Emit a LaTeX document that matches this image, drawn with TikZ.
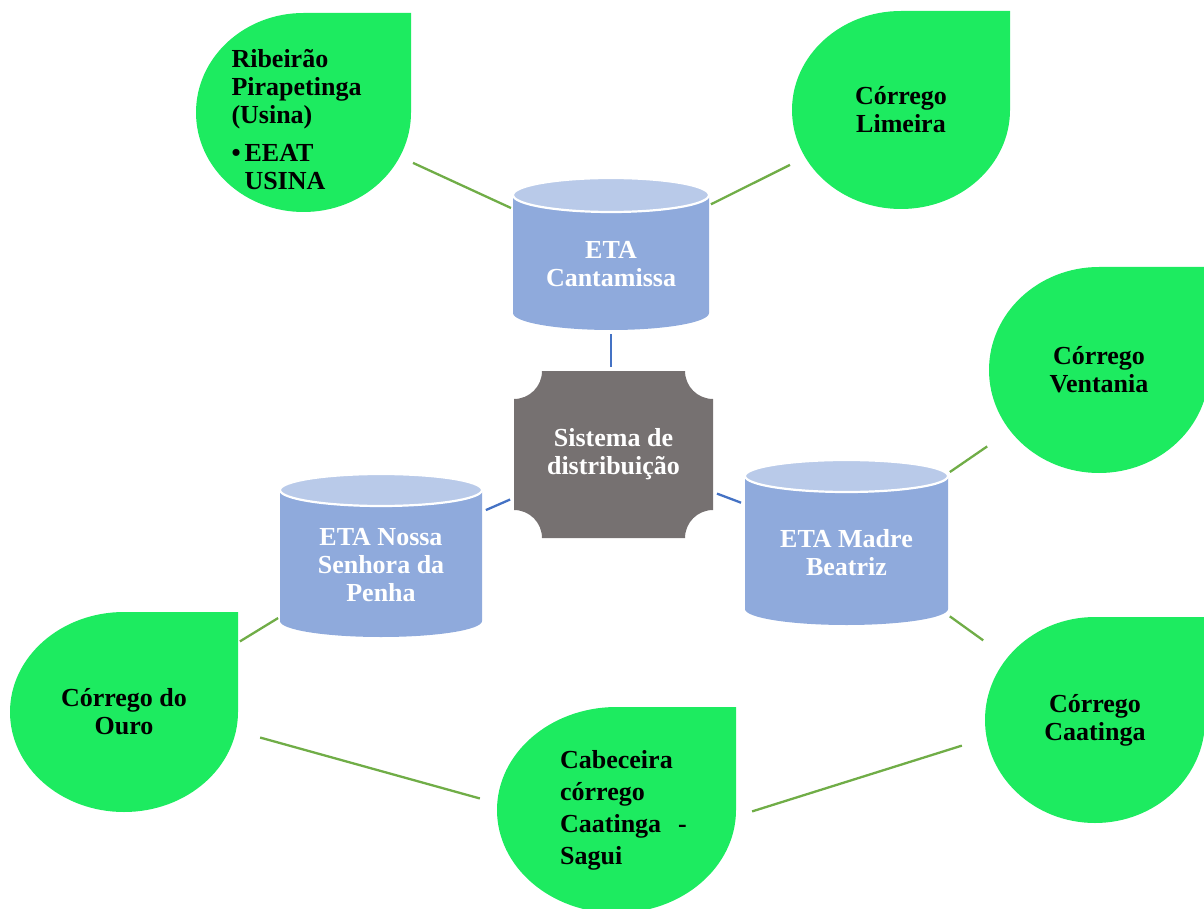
\documentclass[tikz,border=0pt]{standalone}
\usepackage{fontspec}
\setmainfont{Liberation Serif}
\usepackage{tikz}
\usetikzlibrary{positioning,calc}

\definecolor{leafgreen}{HTML}{1DEB60}
\definecolor{cylbody}{HTML}{8FAADC}
\definecolor{cyltop}{HTML}{B9CAE9}
\definecolor{hubgrey}{HTML}{767171}
\definecolor{linkgreen}{HTML}{70AD47}
\definecolor{linkblue}{HTML}{4472C4}

\begin{document}
\begin{tikzpicture}[x=1pt,y=-1pt,
		box/.style={rectangle, inner sep=0pt},
		leaftext/.style={text=black, font=\fontsize{26}{28}\selectfont\bfseries, align=center},
		etatext/.style={text=white, font=\fontsize{26}{28}\selectfont\bfseries, align=center, yshift=-10pt},
		greenlink/.style={draw=linkgreen, line width=2.3pt, shorten <=2pt, shorten >=2pt},
		bluelink/.style={draw=linkblue, line width=2.3pt, shorten <=4pt, shorten >=4pt}
		]
		\useasboundingbox (0,0) rectangle (1204,909);
		
		% Shapes
		\foreach \cx/\cy/\rx/\ry in {303.5/112.5/107.5/99.5, 901/110/109/99, 1099/370/110/103, 124/712/114/100, 1095/720/110/103, 616.5/810/119.5/103}
		\fill[leafgreen] (\cx+\rx,\cy-\ry) -- (\cx+\rx,\cy) arc[start angle=0, end angle=180, x radius=\rx, y radius=\ry] arc[start angle=180, end angle=270, x radius=\rx, y radius=\ry] -- cycle;
		
		\foreach \cx/\rx/\tc/\bc/\ry in {611/98/195/313/17, 381/101/490/621/16, 846.5/101.5/476/609/16}{
			\fill[cylbody] (\cx-\rx,\tc) -- (\cx-\rx,\bc) arc[start angle=180, end angle=0, x radius=\rx, y radius=\ry] -- (\cx+\rx,\tc) -- cycle;
			\filldraw[fill=cyltop, draw=white, line width=2.2pt] (\cx,\tc) ellipse[x radius=\rx, y radius=\ry];
		}
		
		\fill[hubgrey] (542,371) -- (685,371) arc[start angle=180, end angle=90, radius=28] -- (713,510) arc[start angle=270, end angle=180, radius=28] -- (542,538) arc[start angle=0, end angle=-90, radius=28] -- (514,399) arc[start angle=90, end angle=0, radius=28] -- cycle;
		
		% Nodes
		\node[box, minimum width=215pt, minimum height=199pt, label={[leaftext, align=left, xshift=-7pt, yshift=-7pt]center:{Ribeirão\\Pirapetinga\\(Usina)\\[10pt]\textbullet\hspace{4pt}EEAT\\\hspace{13pt}USINA}}] (rib) at (303.5,112.5) {};
		\node[box, leaftext, minimum width=218pt, minimum height=198pt] (lim) at (901,110) {Córrego\\Limeira};
		\node[box, leaftext, minimum width=220pt, minimum height=206pt] (ven) at (1099,370) {Córrego\\Ventania};
		\node[box, leaftext, minimum width=228pt, minimum height=200pt] (ouro) at (124,712) {Córrego do\\Ouro};
		\node[box, leaftext, minimum width=220pt, minimum height=206pt] (caat) at (1095,720) {Córrego\\Caatinga};
		\node[box, minimum width=239pt, minimum height=206pt, label={[leaftext, align=left, font=\fontsize{26}{32}\selectfont\bfseries, xshift=7pt]center:{Cabeceira\\córrego\\Caatinga\hspace{17pt}-\\Sagui}}] (cab) at (616.5,810) {};
		
		\node[box, minimum width=196pt, minimum height=152pt, label={[etatext]center:{ETA\\Cantamissa}}] (cant) at (611,254) {};
		\node[box, minimum width=202pt, minimum height=163pt, label={[etatext]center:{ETA Nossa\\Senhora da\\Penha}}] (nossa) at (381,555.5) {};
		\node[box, minimum width=203pt, minimum height=165pt, label={[etatext]center:{ETA Madre\\Beatriz}}] (madre) at (846.5,542.5) {};
		\node[box, text=white, font=\fontsize{26}{28}\selectfont\bfseries, align=center, minimum width=199pt, minimum height=167pt] (hub) at (613.5,454.5) {Sistema de\\distribuição};
		
		% Links
		\draw[greenlink] (rib) -- (cant);
		\draw[greenlink] (cant) -- (lim);
		\draw[bluelink] (cant) -- (cant |- hub.north);
		\draw[bluelink] (hub) -- (nossa);
		\draw[bluelink] (hub) -- (madre);
		\draw[greenlink] (ven) -- (madre);
		\draw[greenlink] (madre) -- (caat);
		\draw[greenlink] (nossa) -- (ouro);
		\draw[greenlink] ([shift={(20,25)}]ouro.east) -- ([shift={(-15,-11)}]cab.west);
		\draw[greenlink] ([shift={(-21,25)}]caat.west) -- ([shift={(14,2)}]cab.east);
	\end{tikzpicture}
\end{document}
